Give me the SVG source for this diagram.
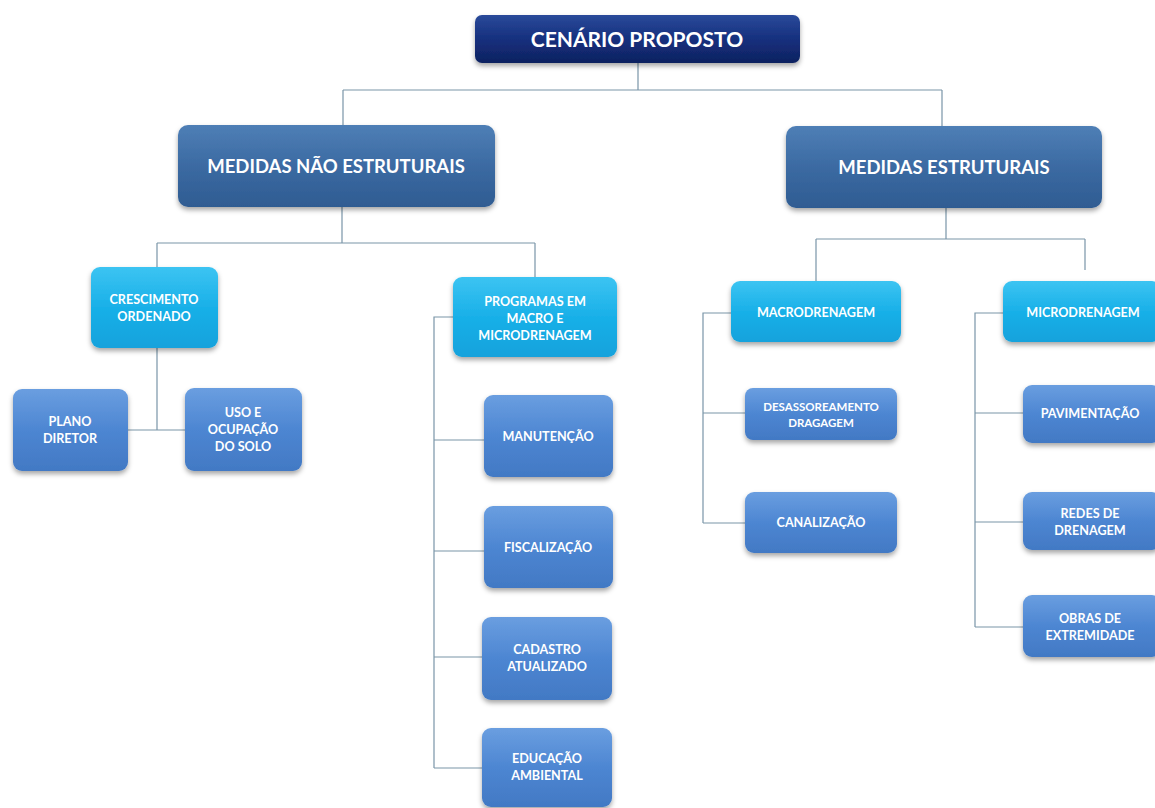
<svg xmlns="http://www.w3.org/2000/svg" width="1155" height="808" viewBox="0 0 1155 808">
<defs>
<linearGradient id="gTop" x1="0" y1="0" x2="0" y2="1">
<stop offset="0" stop-color="#2a4a9a"/><stop offset="0.5" stop-color="#16307e"/><stop offset="1" stop-color="#0e2260"/>
</linearGradient>
<linearGradient id="gL1" x1="0" y1="0" x2="0" y2="1">
<stop offset="0" stop-color="#4f7fb6"/><stop offset="0.5" stop-color="#3b6aa2"/><stop offset="1" stop-color="#2f5c92"/>
</linearGradient>
<linearGradient id="gL2" x1="0" y1="0" x2="0" y2="1">
<stop offset="0" stop-color="#3cc4f2"/><stop offset="0.5" stop-color="#19b0e8"/><stop offset="1" stop-color="#12a2dc"/>
</linearGradient>
<linearGradient id="gL3" x1="0" y1="0" x2="0" y2="1">
<stop offset="0" stop-color="#6a9ee0"/><stop offset="0.5" stop-color="#4d86d2"/><stop offset="1" stop-color="#4279c4"/>
</linearGradient>
<filter id="sh" x="-10%" y="-10%" width="120%" height="130%">
<feDropShadow dx="0" dy="3" stdDeviation="2.5" flood-color="#000" flood-opacity="0.35"/>
</filter>
</defs>
<style>
.top{fill:url(#gTop);filter:url(#sh)}
.l1{fill:url(#gL1);filter:url(#sh)}
.l2{fill:url(#gL2);filter:url(#sh)}
.l3{fill:url(#gL3);filter:url(#sh)}
text{font-family:Lato,"Open Sans","Liberation Sans",sans-serif;font-weight:bold;fill:#fff;text-anchor:middle}
.t0{font-size:21px}
.t1{font-size:18.5px}
.t2{font-size:12.6px}
.t3{font-size:12.6px}
.ln{fill:none;stroke:#7a95a8;stroke-width:1.2}
</style>
<rect width="1155" height="808" fill="#fff"/>
<g id="connectors" class="ln">
<path d="M638 63V90M343 90H942M343 90V125M942 90V126"/>
<path d="M342 207V243M157 243H535M157 243V267M535 243V277"/>
<path d="M946 208V239M816 239H1085M816 239V281M1085 239V270"/>
<path d="M157 348V430M128 430H185"/>
<path d="M453 317H434V768M434 440H484M434 551H484M434 657H482M434 768H482"/>
<path d="M731 313H703V523M703 413H745M703 523H745"/>
<path d="M1003 313H975V627M975 413H1023M975 522H1023M975 627H1023"/>
</g>
<g id="n-cenario"><rect class="top" x="475" y="15" width="325" height="48" rx="7"/><text class="t0" x="637" y="47">CENÁRIO PROPOSTO</text></g>
<g id="n-nao-estruturais"><rect class="l1" x="178" y="125" width="317" height="82" rx="10"/><text class="t1" x="336" y="173">MEDIDAS NÃO ESTRUTURAIS</text></g>
<g id="n-estruturais"><rect class="l1" x="786" y="126" width="316" height="82" rx="10"/><text class="t1" x="944" y="174">MEDIDAS ESTRUTURAIS</text></g>
<g id="n-crescimento"><rect class="l2" x="91" y="267" width="127" height="81" rx="9"/><text class="t2" x="154" y="304">CRESCIMENTO</text><text class="t2" x="154" y="321">ORDENADO</text></g>
<g id="n-plano"><rect class="l3" x="13" y="389" width="115" height="82" rx="9"/><text class="t3" x="70" y="426">PLANO</text><text class="t3" x="70" y="443">DIRETOR</text></g>
<g id="n-uso"><rect class="l3" x="185" y="388" width="117" height="83" rx="9"/><text class="t3" x="243" y="417">USO E</text><text class="t3" x="243" y="434">OCUPAÇÃO</text><text class="t3" x="243" y="451">DO SOLO</text></g>
<g id="n-programas"><rect class="l2" x="453" y="277" width="164" height="80" rx="9"/><text class="t2" x="535" y="306">PROGRAMAS EM</text><text class="t2" x="535" y="323">MACRO E</text><text class="t2" x="535" y="340">MICRODRENAGEM</text></g>
<g id="n-manutencao"><rect class="l3" x="484" y="395" width="129" height="82" rx="9"/><text class="t3" x="548" y="441">MANUTENÇÃO</text></g>
<g id="n-fiscalizacao"><rect class="l3" x="484" y="506" width="129" height="82" rx="9"/><text class="t3" x="548" y="552">FISCALIZAÇÃO</text></g>
<g id="n-cadastro"><rect class="l3" x="482" y="617" width="130" height="83" rx="9"/><text class="t3" x="547" y="654">CADASTRO</text><text class="t3" x="547" y="671">ATUALIZADO</text></g>
<g id="n-educacao"><rect class="l3" x="482" y="728" width="130" height="79" rx="9"/><text class="t3" x="547" y="763">EDUCAÇÃO</text><text class="t3" x="547" y="780">AMBIENTAL</text></g>
<g id="n-macro"><rect class="l2" x="731" y="281" width="170" height="61" rx="9"/><text class="t2" x="816" y="317">MACRODRENAGEM</text></g>
<g id="n-desassoreamento"><rect class="l3" x="745" y="388" width="152" height="52" rx="8"/><text class="t3" x="821" y="411" style="font-size:11.5px">DESASSOREAMENTO</text><text class="t3" x="821" y="427" style="font-size:11.5px">DRAGAGEM</text></g>
<g id="n-canalizacao"><rect class="l3" x="745" y="492" width="152" height="61" rx="9"/><text class="t3" x="821" y="527">CANALIZAÇÃO</text></g>
<g id="n-micro"><rect class="l2" x="1003" y="281" width="158" height="61" rx="9"/><text class="t2" x="1083" y="317">MICRODRENAGEM</text></g>
<g id="n-pavimentacao"><rect class="l3" x="1023" y="385" width="138" height="58" rx="9"/><text class="t3" x="1090" y="418">PAVIMENTAÇÃO</text></g>
<g id="n-redes"><rect class="l3" x="1023" y="492" width="138" height="58" rx="9"/><text class="t3" x="1090" y="518">REDES DE</text><text class="t3" x="1090" y="535">DRENAGEM</text></g>
<g id="n-obras"><rect class="l3" x="1023" y="595" width="138" height="62" rx="9"/><text class="t3" x="1090" y="623">OBRAS DE</text><text class="t3" x="1090" y="640">EXTREMIDADE</text></g>
</svg>
